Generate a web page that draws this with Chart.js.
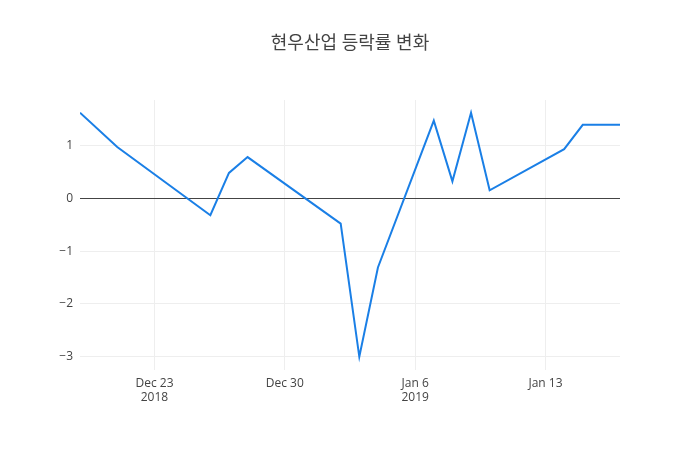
<!DOCTYPE html>
<html>
<head>
<meta charset="utf-8">
<script src="https://cdn.jsdelivr.net/npm/chart.js@4"></script>
<style>
  html, body { margin: 0; padding: 0; background: #fff; }
  canvas { display: block; }
</style>
</head>
<body>
<canvas id="chart" width="700" height="450"></canvas>
<script>
// 현우산업 daily change (%)
const dates = ["2018-12-19", "2018-12-21", "2018-12-26", "2018-12-27", "2018-12-28",
  "2019-01-02", "2019-01-03", "2019-01-04", "2019-01-07", "2019-01-08", "2019-01-09",
  "2019-01-10", "2019-01-14", "2019-01-15", "2019-01-17"]
const changes = [1.62, 0.97, -0.32, 0.48, 0.78, -0.48, -3.0, -1.31, 1.47, 0.32, 1.62, 0.15, 0.93, 1.39, 1.39]

const xTickDates = ["2018-12-23", "2018-12-30", "2019-01-06", "2019-01-13"]
const xTickLabels = [["Dec 23", "2018"], "Dec 30", ["Jan 6", "2019"], "Jan 13"]
const yTicks = [-3, -2, -1, 0, 1]

const title = "현우산업 등락률 변화"

// day offsets from the first tick, so a linear axis can stand in for time
const base = Date.parse("2018-12-23T00:00:00Z")
const toDay = (s) => (Date.parse(s + "T00:00:00Z") - base) / 86400000

const points = dates.map((d, i) => ({ x: toDay(d), y: changes[i] }))
const tickDays = xTickDates.map(toDay)

const FONT = "'Open Sans', 'Noto Sans', sans-serif"

const titlePlugin = {
  id: "plotTitle",
  afterDraw(chart) {
    const ctx = chart.ctx
    ctx.save()
    ctx.font = "18px 'Open Sans', 'Noto Sans CJK KR', sans-serif"
    ctx.fillStyle = "#444"
    ctx.textAlign = "center"
    ctx.textBaseline = "middle"
    ctx.fillText(title, 350, 44)
    ctx.restore()
  },
}

new Chart(document.getElementById("chart"), {
  type: "line",
  data: {
    datasets: [
      {
        data: points,
        borderColor: "#1a7fe6",
        borderWidth: 2,
        pointRadius: 0,
        tension: 0,
        fill: false,
      },
    ],
  },
  options: {
    responsive: false,
    animation: false,
    layout: { padding: { top: 100, right: 80, bottom: 0, left: 0 } },
    plugins: {
      legend: { display: false },
      title: { display: false },
      tooltip: { enabled: false },
    },
    scales: {
      x: {
        type: "linear",
        min: toDay(dates[0]),
        max: toDay(dates[dates.length - 1]),
        afterBuildTicks: (scale) => {
          scale.ticks = tickDays.map((v) => ({ value: v }))
        },
        afterFit: (scale) => {
          scale.height = 80
        },
        grid: { color: "#eee", drawTicks: false },
        border: { display: false },
        ticks: {
          autoSkip: false,
          maxRotation: 0,
          padding: 6,
          color: "#444",
          font: { family: FONT, size: 12 },
          callback: (v) => {
            const i = tickDays.indexOf(v)
            return i >= 0 ? xTickLabels[i] : ""
          },
        },
      },
      y: {
        min: -3.25,
        max: 1.86,
        afterBuildTicks: (scale) => {
          scale.ticks = yTicks.map((v) => ({ value: v }))
        },
        afterFit: (scale) => {
          scale.width = 80
        },
        grid: {
          drawTicks: false,
          color: (c) => (c.tick && c.tick.value === 0 ? "#444" : "#eee"),
        },
        border: { display: false },
        ticks: {
          padding: 7,
          color: "#444",
          font: { family: FONT, size: 12 },
          callback: (v) => (v < 0 ? "\u2212" + Math.abs(v) : String(v)),
        },
      },
    },
  },
  plugins: [titlePlugin],
})
</script>
</body>
</html>
